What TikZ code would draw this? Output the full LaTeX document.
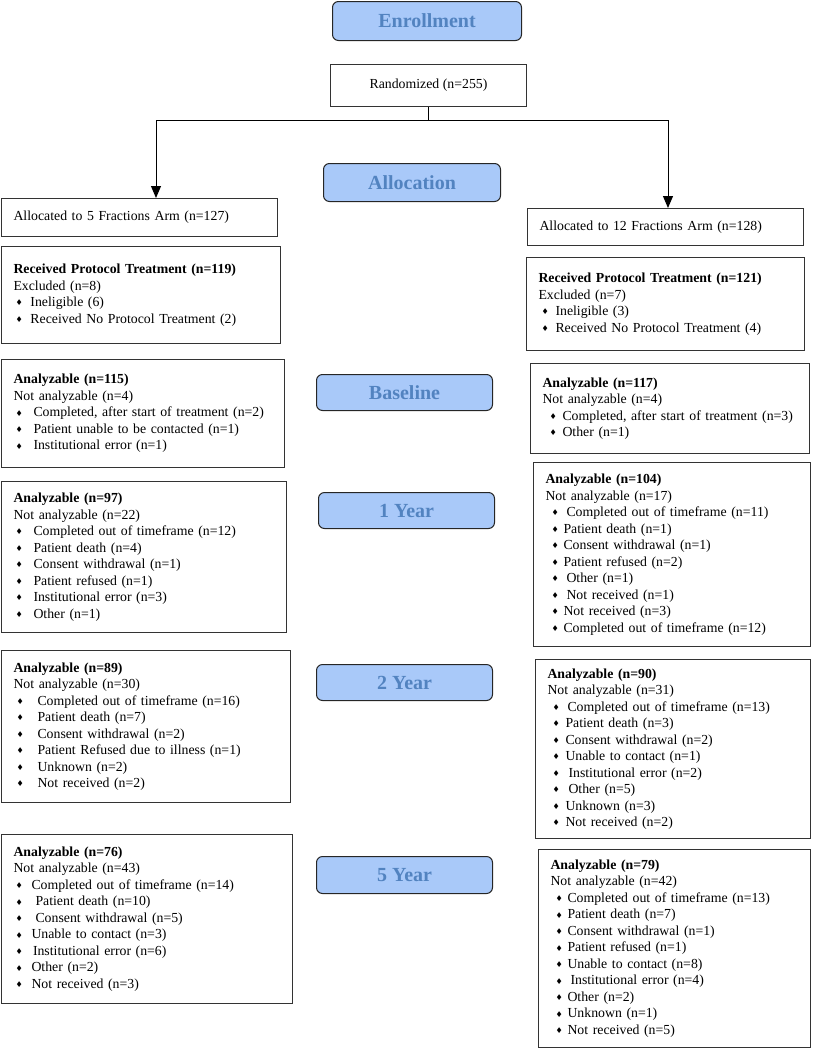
\documentclass[tikz,border=0pt]{standalone}
\usepackage{fontspec}
\setmainfont{Liberation Serif}
\newfontfamily\symf{DejaVu Sans}
\usetikzlibrary{arrows.meta}
\definecolor{phasefill}{HTML}{A9C9F9}
\definecolor{phasetext}{HTML}{5283C0}
\definecolor{edgec}{HTML}{333333}
\newcommand{\dia}{\raisebox{0.8pt}{\symf\fontsize{8}{8}\selectfont ♦}}
\newcommand{\bi}[3]{\hspace*{#1pt}\makebox[#2pt][l]{\dia}#3}
\newcommand{\xs}{\hspace{3pt}}
\begin{document}
\begin{tikzpicture}[x=1pt,y=-1pt,
  box/.style={draw=edgec, line width=1pt, anchor=north west, align=left, inner xsep=12pt, inner ysep=0pt, font=\fontsize{13.8}{16.5}\selectfont},
  cbox/.style={draw=edgec, line width=1pt, anchor=north west, align=center, inner sep=0pt, font=\fontsize{13.8}{16.5}\selectfont},
  phase/.style={draw=black!85, line width=1pt, fill=phasefill, rounded corners=6pt, anchor=north west, text=phasetext, font=\fontsize{20}{24}\selectfont\bfseries, inner sep=0pt, align=center},
  arr/.style={-{Triangle[width=10pt,length=12pt]}, line width=1pt},
  conn/.style={line width=1pt}
]
\useasboundingbox (0,0) rectangle (816,1050);

% phase labels
\node[phase, minimum width=189pt, minimum height=39pt] (enr) at (332,1) {Enrollment};
\node[phase, minimum width=177pt, minimum height=38pt] (alc) at (323,163) {Allocation};
\node[phase, minimum width=176pt, minimum height=36pt] (bas) at (316,374) {Baseline};
\node[phase, minimum width=176pt, minimum height=36pt] (yr1) at (318,492) {1 Year};
\node[phase, minimum width=176pt, minimum height=36pt] (yr2) at (316,664) {2 Year};
\node[phase, minimum width=176pt, minimum height=37pt] (yr5) at (316,856) {5 Year};

% randomized
\node[cbox, minimum width=196pt, minimum height=42pt] (rand) at (330,64) {Randomized (n=255)};

% allocation
\node[box, minimum width=276pt, minimum height=38pt, text width=252pt] (a5) at (1,198) {Allocated to 5 Fractions Arm (n=127)};
\node[box, minimum width=276pt, minimum height=37pt, text width=252pt] (a12) at (527,208) {Allocated to 12 Fractions Arm (n=128)};

% received
\node[box, minimum width=279pt, minimum height=97pt, text width=255pt] (r5) at (1,246) {%
\textbf{Received Protocol Treatment (n=119)}\\
Excluded (n=8)\\
\bi{2}{15}{Ineligible (6)}\\
\bi{2}{15}{Received No Protocol Treatment (2)}};
\node[box, minimum width=278pt, minimum height=93pt, text width=254pt] (r12) at (526,257) {%
\textbf{Received Protocol Treatment (n=121)}\\
Excluded (n=7)\\
\bi{3}{14}{Ineligible (3)}\\
\bi{3}{14}{Received No Protocol Treatment (4)}};

% baseline
\node[box, minimum width=283pt, minimum height=108pt, text width=259pt] (b5) at (1,359) {%
\textbf{Analyzable (n=115)}\\
Not analyzable (n=4)\\
\bi{2}{18}{Completed, after start of treatment (n=2)}\\
\bi{2}{18}{Patient unable to be contacted (n=1)}\\
\bi{2}{18}{Institutional error (n=1)}};
\node[box, minimum width=279pt, minimum height=90pt, text width=255pt] (b12) at (530,363) {%
\textbf{Analyzable (n=117)}\\
Not analyzable (n=4)\\
\bi{7}{13}{Completed, after start of treatment (n=3)}\\
\bi{7}{13}{Other (n=1)}};

% 1 year
\node[box, minimum width=285pt, minimum height=151pt, text width=261pt] (y1l) at (1,481) {%
\textbf{Analyzable (n=97)}\\
Not analyzable (n=22)\\
\bi{2}{18}{Completed out of timeframe (n=12)}\\
\bi{2}{18}{Patient death (n=4)}\\
\bi{2}{18}{Consent withdrawal (n=1)}\\
\bi{2}{18}{Patient refused (n=1)}\\
\bi{2}{18}{Institutional error (n=3)}\\
\bi{2}{18}{Other (n=1)}};
\node[box, minimum width=277pt, minimum height=184pt, text width=253pt] (y1r) at (533,462) {%
\textbf{Analyzable (n=104)}\\
Not analyzable (n=17)\\
\bi{6}{12}{\xs Completed out of timeframe (n=11)}\\
\bi{6}{12}{Patient death (n=1)}\\
\bi{6}{12}{Consent withdrawal (n=1)}\\
\bi{6}{12}{Patient refused (n=2)}\\
\bi{6}{12}{\xs Other (n=1)}\\
\bi{6}{12}{\xs Not received (n=1)}\\
\bi{6}{12}{Not received (n=3)}\\
\bi{6}{12}{Completed out of timeframe (n=12)}};

% 2 year
\node[box, minimum width=289pt, minimum height=152pt, text width=265pt] (y2l) at (1,650) {%
\textbf{Analyzable (n=89)}\\
Not analyzable (n=30)\\
\bi{3}{21}{Completed out of timeframe (n=16)}\\
\bi{3}{21}{Patient death (n=7)}\\
\bi{3}{21}{Consent withdrawal (n=2)}\\
\bi{3}{21}{Patient Refused due to illness (n=1)}\\
\bi{3}{21}{Unknown (n=2)}\\
\bi{3}{21}{Not received (n=2)}};
\node[box, minimum width=275pt, minimum height=179pt, text width=251pt] (y2r) at (535,659) {%
\textbf{Analyzable (n=90)}\\
Not analyzable (n=31)\\
\bi{5}{13}{\hspace{2pt}Completed out of timeframe (n=13)}\\
\bi{5}{13}{Patient death (n=3)}\\
\bi{5}{13}{Consent withdrawal (n=2)}\\
\bi{5}{13}{Unable to contact (n=1)}\\
\bi{5}{13}{\xs Institutional error (n=2)}\\
\bi{5}{13}{\xs Other (n=5)}\\
\bi{5}{13}{Unknown (n=3)}\\
\bi{5}{13}{Not received (n=2)}};

% 5 year
\node[box, minimum width=291pt, minimum height=169pt, text width=267pt] (y5l) at (1,834) {%
\textbf{Analyzable (n=76)}\\
Not analyzable (n=43)\\
\bi{2}{16}{Completed out of timeframe (n=14)}\\
\bi{2}{16}{\hspace{4pt}Patient death (n=10)}\\
\bi{2}{16}{\hspace{4pt}Consent withdrawal (n=5)}\\
\bi{2}{16}{Unable to contact (n=3)}\\
\bi{2}{16}{\hspace{1.5pt}Institutional error (n=6)}\\
\bi{2}{16}{Other (n=2)}\\
\bi{2}{16}{Not received (n=3)}};
\node[box, minimum width=272pt, minimum height=198pt, text width=248pt] (y5r) at (538,849) {%
\textbf{Analyzable (n=79)}\\
Not analyzable (n=42)\\
\bi{5}{12}{Completed out of timeframe (n=13)}\\
\bi{5}{12}{Patient death (n=7)}\\
\bi{5}{12}{Consent withdrawal (n=1)}\\
\bi{5}{12}{Patient refused (n=1)}\\
\bi{5}{12}{Unable to contact (n=8)}\\
\bi{5}{12}{\xs Institutional error (n=4)}\\
\bi{5}{12}{Other (n=2)}\\
\bi{5}{12}{Unknown (n=1)}\\
\bi{5}{12}{Not received (n=5)}};

% connectors
\coordinate (sl) at (156,120);
\coordinate (sr) at (668,120);
\draw[arr] (rand.south) |- (sl) -- (sl |- a5.north);
\draw[arr] (rand.south) |- (sr) -- (sr |- a12.north);
\end{tikzpicture}
\end{document}
